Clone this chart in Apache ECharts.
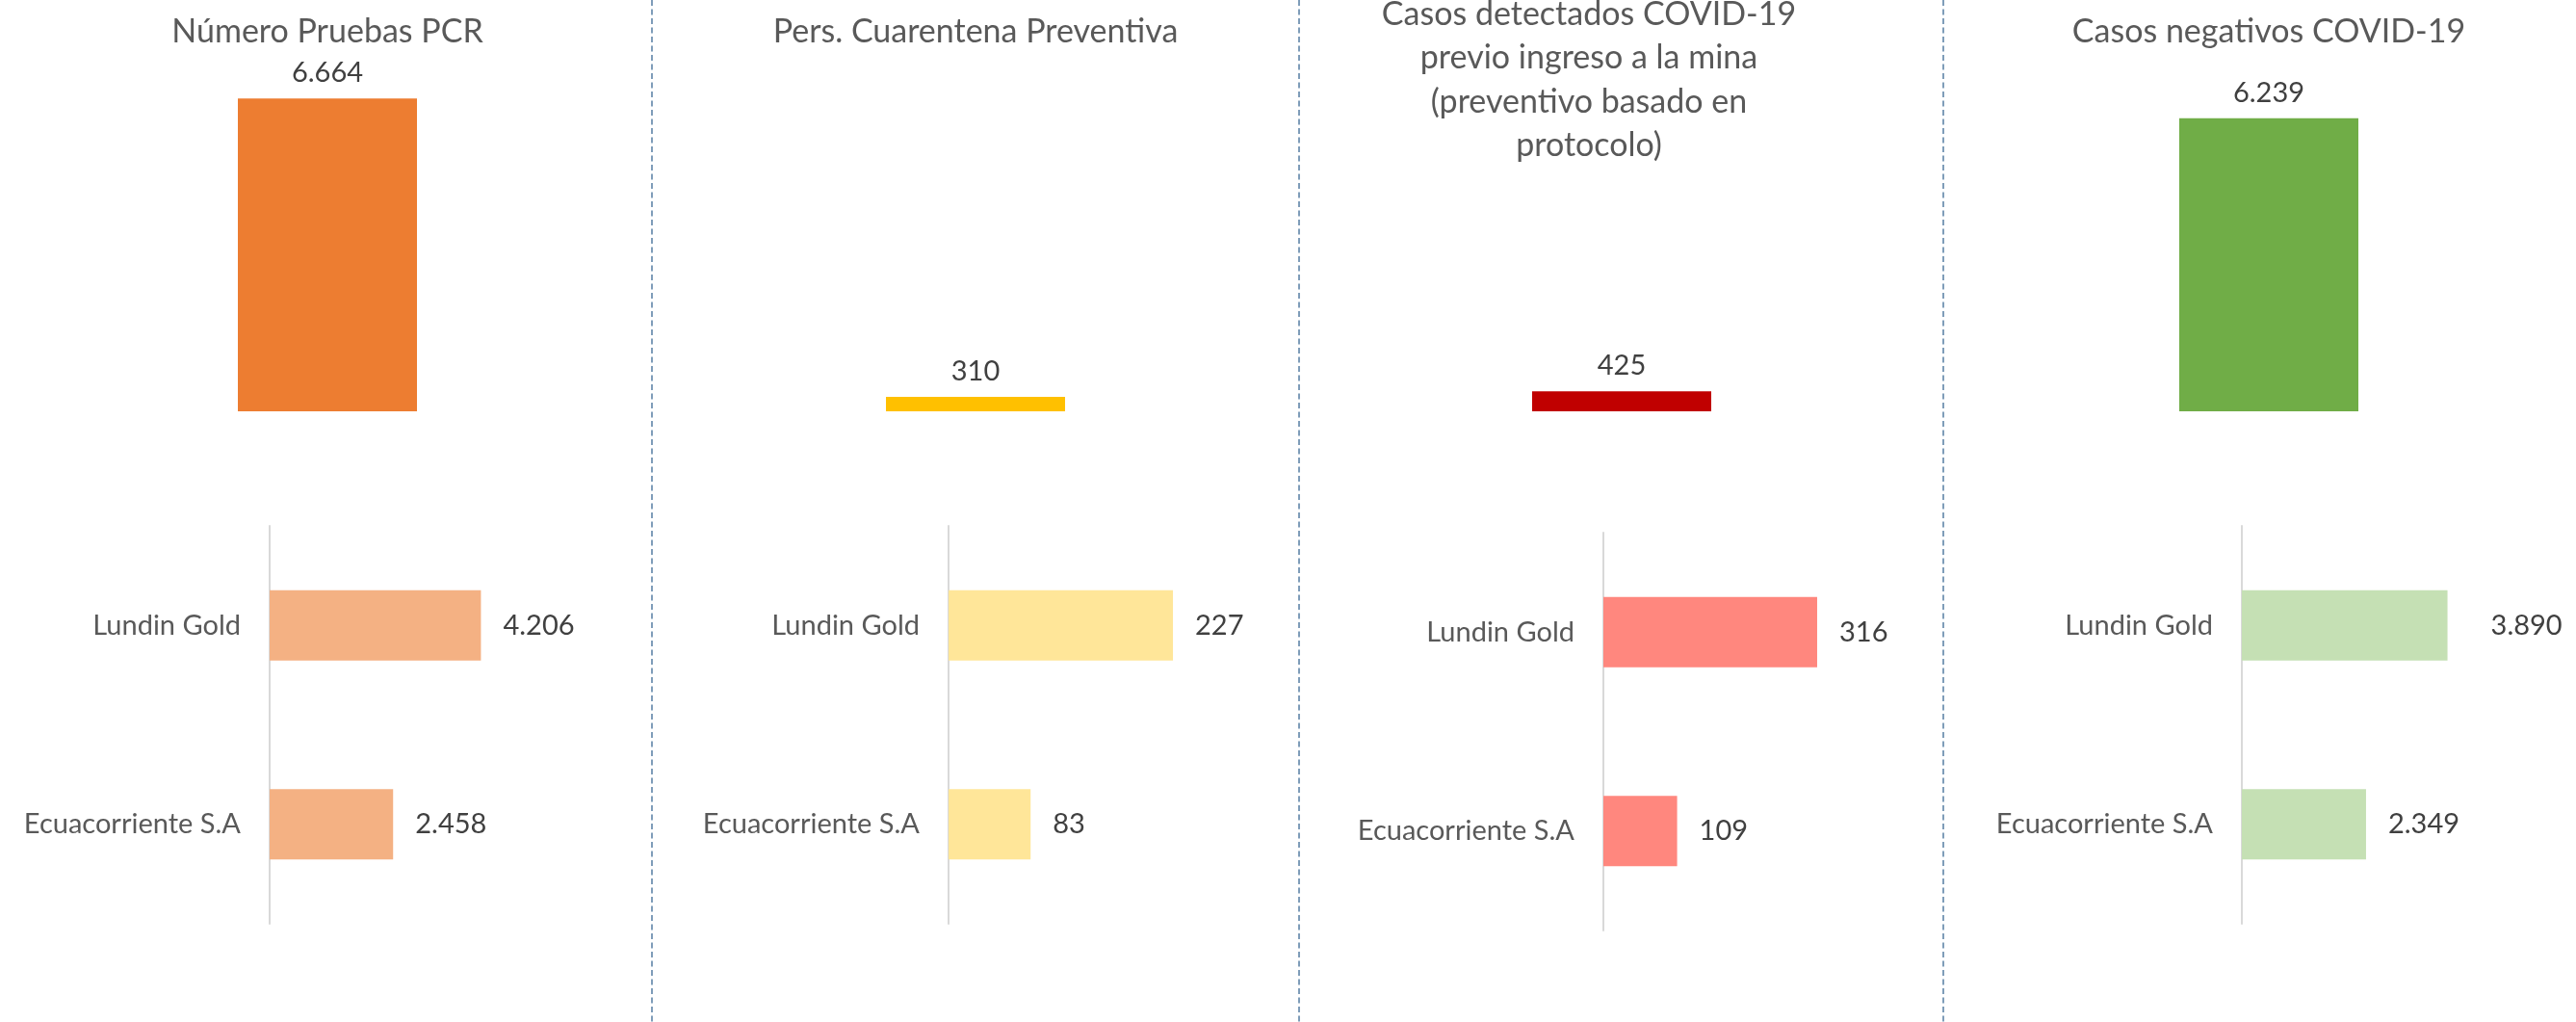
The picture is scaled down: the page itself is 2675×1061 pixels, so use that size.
<!DOCTYPE html>
<html><head><meta charset="utf-8">
<script src="https://cdn.jsdelivr.net/npm/echarts@6/dist/echarts.min.js"></script>
<style>html,body{margin:0;padding:0;background:#fff}#c{width:2675px;height:1061px}</style>
</head><body><div id="c"></div>
<script>
// ---- data ----
const panelTitles = [
  'Número Pruebas PCR',
  'Pers. Cuarentena Preventiva',
  'Casos detectados COVID-19\nprevio ingreso a la mina\n(preventivo basado en\nprotocolo)',
  'Casos negativos COVID-19'
];
const totals = [6664, 310, 425, 6239];
const companies = ['Lundin Gold', 'Ecuacorriente S.A'];
const lundinValues = [4206, 227, 316, 3890];
const ecuaValues = [2458, 83, 109, 2349];

// ---- styles / layout ----
const topColors = ['#ED7D31', '#FFC000', '#C00000', '#70AD47'];
const bottomColors = ['#F4B183', '#FFE699', '#FF877E', '#C5E0B4'];
const topCenter = [340, 1013, 1684, 2356];
const titleCenter = [340, 1013, 1650, 2356];
const titleTop = [10, 10, -8, 10];
const botLeft = [280, 985, 1665, 2328];
const botTop = [546, 546, 553, 546];
const botWidth = [313, 308, 281, 274.5];
const botMax = [6000, 300, 400, 5000];
const dividers = [677, 1349, 2018];
const FONT = 'Lato';

function fmt(v) { return String(v).replace(/\B(?=(\d{3})+(?!\d))/g, '.'); }

const chart = echarts.init(document.getElementById('c'), null, {renderer: 'canvas'});
const grid = [], xAxis = [], yAxis = [], series = [], title = [];
for (let i = 0; i < 4; i++) {
  title.push({
    text: panelTitles[i], left: titleCenter[i], top: titleTop[i], padding: 0,
    textAlign: 'center',
    textStyle: {fontFamily: FONT, fontSize: 34, lineHeight: 45.5, fontWeight: 'normal', color: '#595959'}
  });
  // top chart
  grid.push({left: topCenter[i] - 150, width: 300, top: 37, height: 390});
  xAxis.push({gridIndex: 2 * i, type: 'category', data: [''], show: false});
  yAxis.push({gridIndex: 2 * i, type: 'value', min: 0, max: 8000, show: false});
  series.push({
    type: 'bar', xAxisIndex: 2 * i, yAxisIndex: 2 * i, data: [totals[i]],
    barWidth: 186, itemStyle: {color: topColors[i]}, animation: false,
    label: {show: true, position: 'top', distance: 12, formatter: p => fmt(p.value),
      fontFamily: FONT, fontSize: 29, color: '#404040'}
  });
  // bottom chart
  grid.push({left: botLeft[i], width: botWidth[i], top: botTop[i], height: 413});
  xAxis.push({gridIndex: 2 * i + 1, type: 'value', min: 0, max: botMax[i], show: false});
  yAxis.push({gridIndex: 2 * i + 1, type: 'category', data: companies, inverse: true,
    axisLine: {show: true, lineStyle: {color: '#D9D9D9', width: 2}},
    axisTick: {show: false},
    axisLabel: {margin: 30, fontFamily: FONT, fontSize: 29, color: '#595959'}
  });
  series.push({
    type: 'bar', xAxisIndex: 2 * i + 1, yAxisIndex: 2 * i + 1,
    data: [
      {value: lundinValues[i], label: {distance: i === 3 ? 45 : 23}},
      {value: ecuaValues[i]}
    ],
    barWidth: 73, itemStyle: {color: bottomColors[i]}, animation: false,
    label: {show: true, position: 'right', distance: 23, formatter: p => fmt(p.value),
      fontFamily: FONT, fontSize: 29, color: '#404040'}
  });
}
const graphic = dividers.map(x => ({
  type: 'line', shape: {x1: x, y1: 0, x2: x, y2: 1061},
  style: {stroke: '#7F9DB9', lineWidth: 2, lineDash: [6, 3.5]}, silent: true
}));
chart.setOption({backgroundColor: '#fff', animation: false, title, grid, xAxis, yAxis, series, graphic});
</script></body></html>
